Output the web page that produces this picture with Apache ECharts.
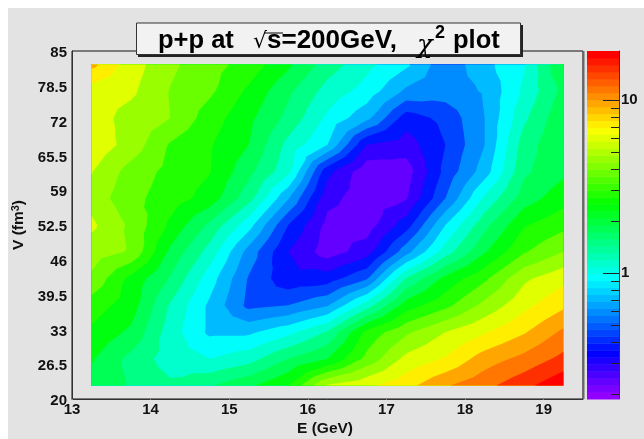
<!DOCTYPE html>
<html><head><meta charset="utf-8">
<style>html,body{margin:0;padding:0;background:#fff;overflow:hidden}
#panel{position:absolute;left:8px;top:8px;width:636px;height:431px;background:#e3e3e3}
#c{position:absolute;left:0;top:0;width:644px;height:439px}</style>
<script src="https://cdn.jsdelivr.net/npm/echarts@6/dist/echarts.min.js"></script>
</head><body><div id="panel"></div><div id="c"></div>
<script>
// Scan grid
const energyGeV = [13.25,13.75,14.25,14.75,15.25,15.75,16.25,16.75,17.25,17.75,18.25,18.75,19.25];
const volumeFm3 = [22.5,27.5,32.5,37.5,42.5,47.5,52.5,57.5,62.5,67.5,72.5,77.5,82.5];
// log10(chi2), one list per volume row
const logChi2V225 = [0.23,0.16,0.09,0.16,0.25,0.37,0.68,0.75,0.835,0.96,1.04,1.14,1.25];
const logChi2V275 = [0.28,0.14,0.02,-0.03,0.03,0.17,0.27,0.5,0.7,0.78,0.92,1.0,1.1];
const logChi2V325 = [0.35,0.25,0.02,-0.15,-0.15,-0.06,0.08,0.4,0.55,0.67,0.76,0.86,0.99];
const logChi2V375 = [0.42,0.32,0.06,-0.15,-0.36,-0.33,-0.24,0.02,0.32,0.44,0.6,0.74,0.85];
const logChi2V425 = [0.55,0.34,0.16,-0.08,-0.34,-0.5,-0.48,-0.34,0.08,0.3,0.45,0.65,0.74];
const logChi2V475 = [0.62,0.56,0.25,0.03,-0.27,-0.53,-0.68,-0.58,-0.27,0.02,0.26,0.46,0.57];
const logChi2V525 = [0.69,0.55,0.35,0.15,-0.09,-0.43,-0.66,-0.68,-0.48,-0.13,0.14,0.36,0.44];
const logChi2V575 = [0.63,0.5,0.42,0.33,0.11,-0.22,-0.6,-0.68,-0.64,-0.33,-0.01,0.22,0.33];
const logChi2V625 = [0.675,0.53,0.44,0.375,0.2,0,-0.5,-0.7,-0.68,-0.4,-0.18,0.15,0.25];
const logChi2V675 = [0.74,0.63,0.46,0.38,0.27,0.04,-0.13,-0.53,-0.58,-0.43,-0.23,0.12,0.26];
const logChi2V725 = [0.72,0.63,0.57,0.42,0.295,0.14,-0.05,-0.2,-0.48,-0.4,-0.23,0.05,0.25];
const logChi2V775 = [0.72,0.69,0.565,0.49,0.35,0.19,0.03,-0.07,-0.25,-0.28,-0.22,-0.01,0.2];
const logChi2V825 = [0.9,0.72,0.59,0.51,0.43,0.29,0.12,0,-0.11,-0.3,-0.16,-0.04,0.28];
const logChi2Rows = [logChi2V225,logChi2V275,logChi2V325,logChi2V375,logChi2V425,logChi2V475,logChi2V525,logChi2V575,logChi2V625,logChi2V675,logChi2V725,logChi2V775,logChi2V825];
// Contour levels and their hues
const contourLevels = [-0.73,-0.63,-0.53,-0.43,-0.33,-0.23,-0.13,-0.03,0.07,0.17,0.27,0.37,0.47,0.57,0.67,0.77,0.87,0.97,1.07,1.17];
const contourHues = [263.2,252,235.2,224,207.2,196,179.2,168,151.2,140,123.2,112,95.2,84,67.2,56,39.2,28,11.2,0];
// Axis ticks
const xTicks = [13,14,15,16,17,18,19];
const yTicks = [20,26.5,33,39.5,46,52.5,59,65.5,72,78.5,85];
const zMajorTicks = [1,10];
const zMinorTicks = [0.2,0.3,0.4,0.5,0.6,0.7,0.8,0.9,2,3,4,5,6,7,8,9];
const zMin = 0.187, zMax = 19.2, barSteps = 50;

const FONT = '"Liberation Sans",Arial,sans-serif';
const hsl = h => `hsl(${h},100%,50%)`;

// Band each grid cell: split into 4 triangles, clip each to value >= level
function clipAbove(tri, lv){
  const out=[];
  for(let i=0;i<tri.length;i++){
    const a=tri[i], b=tri[(i+1)%tri.length];
    if(a[2]>=lv) out.push(a);
    if((a[2]>=lv)!==(b[2]>=lv)){
      const t=(lv-a[2])/(b[2]-a[2]);
      out.push([a[0]+t*(b[0]-a[0]),a[1]+t*(b[1]-a[1]),lv]);
    }
  }
  return out;
}
// One compound region per contour level: everything at or above that level
const levelRegions=contourLevels.map((lv,k)=>{
  const polys=[];
  for(let j=0;j<volumeFm3.length-1;j++)for(let i=0;i<energyGeV.length-1;i++){
    const n=(a,b)=>[energyGeV[a],volumeFm3[b],logChi2Rows[b][a]];
    const c=[n(i,j),n(i+1,j),n(i+1,j+1),n(i,j+1)];
    const m=[(c[0][0]+c[1][0])/2,(c[0][1]+c[3][1])/2,(c[0][2]+c[1][2]+c[2][2]+c[3][2])/4];
    for(let e=0;e<4;e++){
      const p=clipAbove([c[e],c[(e+1)%4],m],lv);
      if(p.length>=3) polys.push(p);
    }
  }
  return {polys,color:hsl(contourHues[k])};
});
const barCells=[];
const zLo=Math.log10(zMin), zHi=Math.log10(zMax);
for(let i=0;i<barSteps;i++) barCells.push([zLo+(zHi-zLo)*i/barSteps, zLo+(zHi-zLo)*(i+1)/barSteps, 280-(i+1)*5.6]);

const chart=echarts.init(document.getElementById('c'),null,{renderer:'canvas'});
const tickText={fontFamily:FONT,fontWeight:'bold',fontSize:15,color:'#111'};
const titleText=(x,y,text,font)=>({type:'text',x,y,z:102,style:{text,fill:'#000',font,verticalAlign:'middle'}});
const TF='bold 25.5px '+FONT;
chart.setOption({
  animation:false,
  grid:[
    {left:72,right:61,top:51,bottom:40,show:true,backgroundColor:'#e3e3e3',borderColor:'#111',borderWidth:1},
    {left:587,width:32,top:51,bottom:40,show:false},
    {left:587,width:32,top:51,bottom:40,show:false}
  ],
  xAxis:[
    {type:'value',gridIndex:0,min:13,max:19.5,interval:1,name:'E (GeV)',nameLocation:'end',
     nameGap:0,nameTextStyle:{fontFamily:FONT,fontWeight:'bold',fontSize:15.5,color:'#111',align:'right',verticalAlign:'top',padding:[22,230,0,0]},
     axisLine:{show:true,lineStyle:{color:'#333',width:1}},
     axisTick:{show:true,length:1,lineStyle:{color:'#888'},customValues:xTicks},
     axisLabel:Object.assign({margin:3,customValues:xTicks},tickText),
     splitLine:{show:false}},
    {type:'value',gridIndex:1,min:0,max:1,show:false},
    {type:'value',gridIndex:2,min:0,max:1,show:false}
  ],
  yAxis:[
    {type:'value',gridIndex:0,min:20,max:85,name:'{a|V (fm}{s|3}{a|)}',nameLocation:'middle',nameRotate:90,nameGap:34,
     nameTextStyle:{rich:{a:{fontFamily:FONT,fontWeight:'bold',fontSize:15.5,color:'#111'},s:{fontFamily:FONT,fontWeight:'bold',fontSize:11,color:'#111',verticalAlign:'top'}}},
     axisLine:{show:true,lineStyle:{color:'#333',width:1}},axisTick:{show:false},
     axisLabel:{margin:5,customValues:yTicks,formatter:v=>`{v|${v}}`,
       rich:{v:Object.assign({padding:[4,0,0,0]},tickText)}},splitLine:{show:false}},
    {type:'value',gridIndex:1,min:zLo,max:zHi,position:'right',z:10,
     axisLine:{show:true,onZero:false,lineStyle:{color:'#333',width:1}},
     axisTick:{show:true,inside:true,length:8,lineStyle:{color:'#222'},customValues:zMinorTicks.map(Math.log10)},
     axisLabel:{show:false},splitLine:{show:false}},
    {type:'value',gridIndex:2,min:zLo,max:zHi,position:'right',z:10,
     axisLine:{show:false,onZero:false},
     axisTick:{show:true,inside:true,length:16,lineStyle:{color:'#222'},customValues:zMajorTicks.map(Math.log10)},
     axisLabel:Object.assign({margin:2,customValues:zMajorTicks.map(Math.log10),formatter:v=>String(Math.round(Math.pow(10,v)))},tickText),
     splitLine:{show:false}}
  ],
  series:[
    {type:'custom',xAxisIndex:0,yAxisIndex:0,silent:true,animation:false,progressive:0,
     data:levelRegions.map((r,k)=>[energyGeV[0],volumeFm3[0],k]),
     renderItem:(params,api)=>{
       const r=levelRegions[params.dataIndex];
       if(!r.polys.length) return {type:'group',children:[]};
       let d='',x0=1e9,y0=1e9,x1=-1e9,y1=-1e9;
       r.polys.forEach(poly=>{
         poly.forEach((q,i)=>{
           const p=api.coord([q[0],q[1]]);
           d+=(i?'L':'M')+p[0].toFixed(2)+' '+p[1].toFixed(2);
           x0=Math.min(x0,p[0]);y0=Math.min(y0,p[1]);x1=Math.max(x1,p[0]);y1=Math.max(y1,p[1]);
         });
         d+='Z';
       });
       return {type:'path',shape:{pathData:d,x:x0,y:y0,width:x1-x0,height:y1-y0,layout:'cover'},style:{fill:r.color}};
     }},
    {type:'custom',xAxisIndex:1,yAxisIndex:1,silent:true,animation:false,
     data:barCells.map(c=>[0,c[0]]),
     renderItem:(params,api)=>{
       const c=barCells[params.dataIndex];
       const a=api.coord([0,c[0]]), b=api.coord([1,c[1]]);
       return {type:'rect',shape:{x:a[0],y:b[1],width:b[0]-a[0],height:a[1]-b[1]+0.5},style:{fill:hsl(c[2])}};
     }}
  ],
  graphic:[
    {type:'line',z:90,shape:{x1:583.5,y1:51,x2:583.5,y2:399},style:{stroke:'#666',lineWidth:2}},
    {type:'rect',z:100,shape:{x:138,y:25,width:385,height:32},style:{fill:'#222'}},
    {type:'rect',z:101,shape:{x:136.5,y:23,width:384,height:31.5},style:{fill:'#f2f2f2',stroke:'#333',lineWidth:1}},
    titleText(158,41,'p+p at',TF),
    titleText(253,42,'√','22px "DejaVu Sans"'),
    {type:'line',z:102,shape:{x1:264,y1:33,x2:283,y2:33},style:{stroke:'#000',lineWidth:1}},
    titleText(267,41,'s=200GeV,','bold 26px '+FONT),
    titleText(417,46,'χ','italic 26px "DejaVu Serif"'),
    titleText(435,33.5,'2','bold 18px '+FONT),
    titleText(453,41,'plot',TF)
  ]
});
</script></body></html>
